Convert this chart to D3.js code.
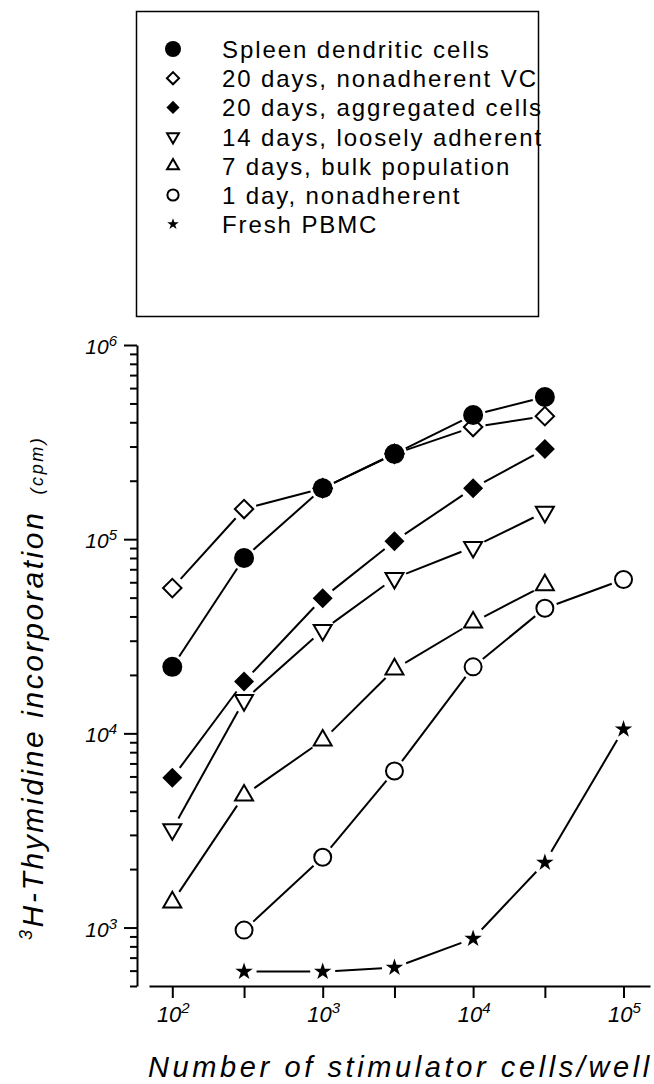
<!DOCTYPE html>
<html>
<head>
<meta charset="utf-8">
<script src="https://cdn.jsdelivr.net/npm/d3@7"></script>
<style>
  body { margin: 0; background: #fff; }
  svg { display: block; font-family: "Liberation Sans", Arial, sans-serif; }
</style>
</head>
<body>
<div id="chart"></div>
<script>
const WIDTH = 654, HEIGHT = 1084;

// Stimulator cells per well (x values)
const doses = [1e2, 3e2, 1e3, 3e3, 1e4, 3e4, 1e5];

// 3H-thymidine incorporation (cpm)
const spleenDC      = [22000, 80000, 183000, 275000, 436000, 540000];   // 1e2 .. 3e4
const nonadherent20 = [56000, 143000, 183000, 275000, 378000, 430000];  // 1e2 .. 3e4
const aggregated20  = [5900, 18500, 49700, 97700, 183000, 291000];      // 1e2 .. 3e4
const loosely14     = [3200, 14800, 34000, 63000, 91000, 138000];       // 1e2 .. 3e4
const bulk7         = [1350, 4800, 9200, 21400, 37300, 58000];          // 1e2 .. 3e4
const nonadherent1  = [970, 2300, 6400, 22000, 44100, 62000];           // 3e2 .. 1e5
const freshPBMC     = [593, 593, 622, 877, 2160, 10500];                // 3e2 .. 1e5

const legendLabels = [
    "Spleen dendritic cells",
    "20 days, nonadherent VC",
    "20 days, aggregated cells",
    "14 days, loosely adherent",
    "7 days, bulk population",
    "1 day, nonadherent",
    "Fresh PBMC"
];

// Axis ticks
const yMajor = [1e3, 1e4, 1e5, 1e6];
const yMinor = [500, 600, 700, 800, 900,
    2e3, 3e3, 4e3, 5e3, 6e3, 7e3, 8e3, 9e3,
    2e4, 3e4, 4e4, 5e4, 6e4, 7e4, 8e4, 9e4,
    2e5, 3e5, 4e5, 5e5, 6e5, 7e5, 8e5, 9e5];
const xTicks = doses;
const xLabelled = [1e2, 1e3, 1e4, 1e5];

// Series: data + marker style (legend order)
let series = [
    {label: legendLabels[0], xs: doses.slice(0, 6), ys: spleenDC,      mark: "circleFilled"},
    {label: legendLabels[1], xs: doses.slice(0, 6), ys: nonadherent20, mark: "diamondOpen"},
    {label: legendLabels[2], xs: doses.slice(0, 6), ys: aggregated20,  mark: "diamondFilled"},
    {label: legendLabels[3], xs: doses.slice(0, 6), ys: loosely14,     mark: "triDown"},
    {label: legendLabels[4], xs: doses.slice(0, 6), ys: bulk7,         mark: "triUp"},
    {label: legendLabels[5], xs: doses.slice(1),    ys: nonadherent1,  mark: "circleOpen"},
    {label: legendLabels[6], xs: doses.slice(1),    ys: freshPBMC,     mark: "star"}
];

let svg = d3.select("#chart")
    .append("svg")
    .attr("width", WIDTH)
    .attr("height", HEIGHT);

// Log scales
let x = d3.scaleLog().domain([70, 1.5e5]).range([149, 650]);
let y = d3.scaleLog().domain([500, 1e6]).range([986, 345]);

/**
 * Draws a marker of the given kind at (cx, cy), scaled by k
 */
function drawMarker(g, kind, cx, cy, k) {
    let t = `translate(${cx},${cy})`;
    if (kind === "circleFilled") {
        g.append("circle").attr("cx", cx).attr("cy", cy).attr("r", 10 * k).attr("fill", "#000");
    } else if (kind === "circleOpen") {
        g.append("circle").attr("cx", cx).attr("cy", cy).attr("r", 8.5 * k)
            .attr("fill", "#fff").attr("stroke", "#000").attr("stroke-width", 2);
    } else if (kind === "diamondFilled") {
        g.append("path").attr("d", d3.symbol(d3.symbolSquare, 200 * k * k)())
            .attr("transform", t + " rotate(45)").attr("fill", "#000");
    } else if (kind === "diamondOpen") {
        g.append("path").attr("d", d3.symbol(d3.symbolSquare, 170 * k * k)())
            .attr("transform", t + " rotate(45)")
            .attr("fill", "#fff").attr("stroke", "#000").attr("stroke-width", 2);
    } else if (kind === "triUp" || kind === "triDown") {
        g.append("path").attr("d", d3.symbol(d3.symbolTriangle, 140 * k * k)())
            .attr("transform", t + (kind === "triDown" ? " rotate(180)" : ""))
            .attr("fill", "#fff").attr("stroke", "#000").attr("stroke-width", 2)
            .attr("stroke-linejoin", "miter");
    } else if (kind === "star") {
        g.append("path").attr("d", d3.symbol(d3.symbolStar, 95 * k * k)())
            .attr("transform", t).attr("fill", "#000");
    }
}

// ---- Legend ----
let legend = svg.append("g");
legend.append("rect")
    .attr("x", 136.5).attr("y", 11.5)
    .attr("width", 402).attr("height", 305)
    .attr("fill", "none").attr("stroke", "#000").attr("stroke-width", 1.5);

series.forEach(function(s, i) {
    let ry = 49 + i * 29.2;
    drawMarker(legend, s.mark, 173, ry, s.mark === "circleFilled" ? 0.8 : 0.66);
    legend.append("text")
        .attr("x", 222).attr("y", ry + 9)
        .attr("font-size", 24)
        .attr("letter-spacing", 1.9)
        .text(s.label);
});

// ---- Axes ----
let yAxisMajor = svg.append("g")
    .attr("transform", "translate(137,0)")
    .call(d3.axisLeft(y).tickValues(yMajor).tickSize(13).tickSizeOuter(0).tickFormat(""));
let yAxisMinor = svg.append("g")
    .attr("transform", "translate(137,0)")
    .call(d3.axisLeft(y).tickValues(yMinor).tickSize(7).tickSizeOuter(0).tickFormat(""));
yAxisMinor.select(".domain").remove();

let xAxis = svg.append("g")
    .attr("transform", "translate(0,986)")
    .call(d3.axisBottom(x).tickValues(xTicks).tickSize(12).tickSizeOuter(0).tickFormat(""));

svg.selectAll(".domain, .tick line")
    .attr("stroke", "#000").attr("stroke-width", 2);

// Power-of-ten tick labels
yMajor.forEach(function(v) {
    let t = svg.append("text")
        .attr("x", 117).attr("y", y(v) + 9)
        .attr("text-anchor", "end")
        .attr("font-style", "italic")
        .attr("font-size", 21);
    t.append("tspan").text("10");
    t.append("tspan").attr("font-size", 15).attr("dy", -8).text(Math.round(Math.log10(v)));
});
xLabelled.forEach(function(v) {
    let t = svg.append("text")
        .attr("x", x(v) + 1).attr("y", 1022)
        .attr("text-anchor", "middle")
        .attr("font-style", "italic")
        .attr("font-size", 22);
    t.append("tspan").text("10");
    t.append("tspan").attr("font-size", 15).attr("dy", -9).text(Math.round(Math.log10(v)));
});

// Axis titles
svg.append("text")
    .attr("x", 148).attr("y", 1077)
    .attr("font-style", "italic")
    .attr("font-size", 29)
    .attr("letter-spacing", 3.6)
    .text("Number of stimulator cells/well");

let yTitle = svg.append("text")
    .attr("transform", "translate(43,940) rotate(-90)")
    .attr("font-style", "italic")
    .attr("letter-spacing", 2.6);
yTitle.append("tspan").attr("font-size", 18).attr("dy", -11).text("3");
yTitle.append("tspan").attr("font-size", 30).attr("dy", 11).text("H-Thymidine incorporation");
yTitle.append("tspan").attr("font-size", 18).attr("dx", 16).text("(cpm)");

// ---- Lines (with small gaps at the markers) ----
let gap = 12.5;
let lineGroup = svg.append("g");
series.forEach(function(s) {
    for (let i = 0; i < s.xs.length - 1; i++) {
        let x1 = x(s.xs[i]), y1 = y(s.ys[i]);
        let x2 = x(s.xs[i + 1]), y2 = y(s.ys[i + 1]);
        let len = Math.hypot(x2 - x1, y2 - y1);
        if (len <= 2 * gap) continue;
        let ux = (x2 - x1) / len, uy = (y2 - y1) / len;
        lineGroup.append("line")
            .attr("x1", x1 + ux * gap).attr("y1", y1 + uy * gap)
            .attr("x2", x2 - ux * gap).attr("y2", y2 - uy * gap)
            .attr("stroke", "#000").attr("stroke-width", 2);
    }
});

// ---- Markers (drawn so that upper series sit on top) ----
let markGroup = svg.append("g");
let drawOrder = [6, 5, 4, 2, 3, 1, 0];
drawOrder.forEach(function(idx) {
    let s = series[idx];
    s.xs.forEach(function(d, i) {
        drawMarker(markGroup, s.mark, x(d), y(s.ys[i]), 1);
    });
});
</script>
</body>
</html>
